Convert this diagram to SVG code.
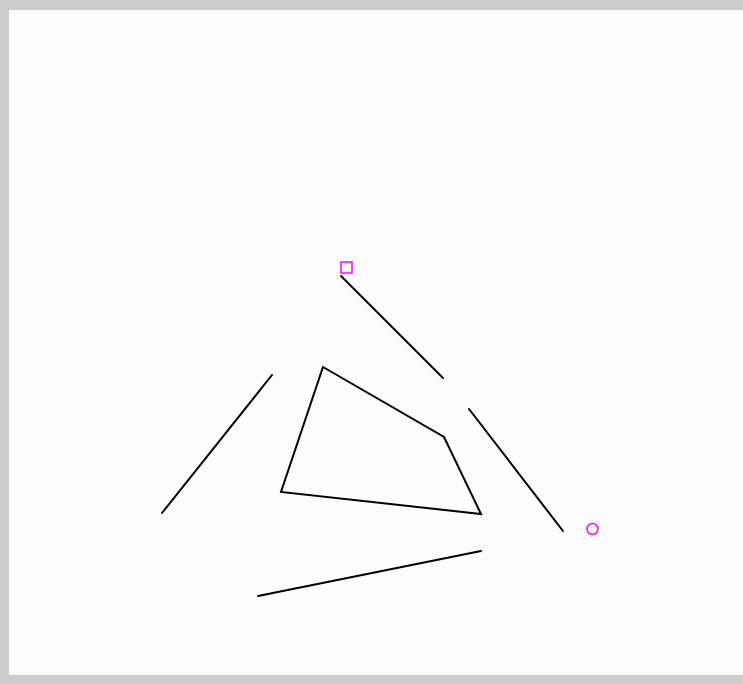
<svg xmlns="http://www.w3.org/2000/svg" width="743" height="684" viewBox="0 0 743 684">
<style>
.ln{stroke:#000;stroke-width:2;fill:none;stroke-linecap:round;stroke-linejoin:miter}
.mk{stroke:#ff00ff;stroke-width:1.5;fill:none}
</style>
<rect x="0" y="0" width="743" height="684" fill="#cccccc"/>
<rect x="9" y="10" width="734" height="665" fill="#fdfdfd"/>
<g id="shape-polygon">
<polygon class="ln" points="323,367 444,437 481,514 281,492"/>
</g>
<g id="connectors">
<line class="ln" x1="341" y1="276" x2="443" y2="378"/>
<line class="ln" x1="469" y1="409" x2="563" y2="531"/>
<line class="ln" x1="272" y1="375" x2="162" y2="513"/>
<line class="ln" x1="258" y1="596" x2="481" y2="551"/>
</g>
<g id="marker-square">
<rect class="mk" x="341" y="262" width="11" height="11"/>
</g>
<g id="marker-circle">
<circle class="mk" cx="592.5" cy="529" r="5.5"/>
</g>
</svg>
